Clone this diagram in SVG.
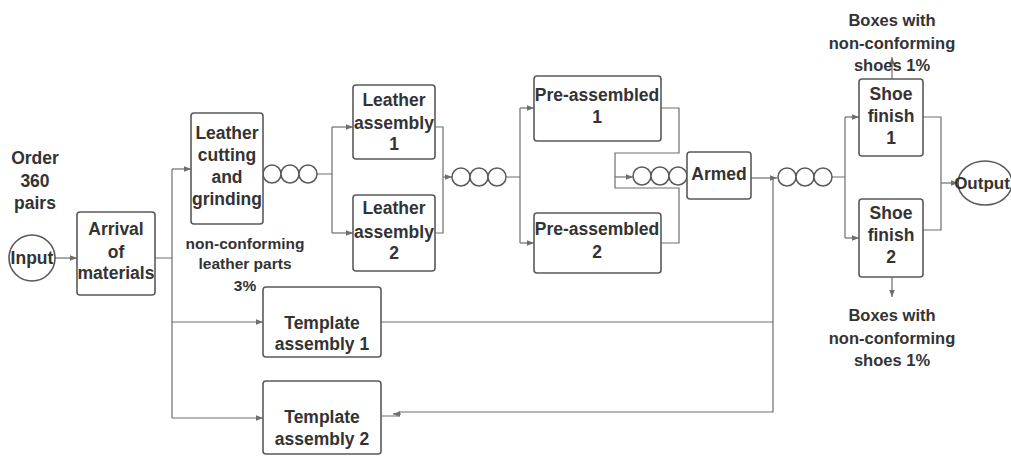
<svg xmlns="http://www.w3.org/2000/svg" width="1011" height="456" viewBox="0 0 1011 456">
<style>
.box{fill:#fff;stroke:#5a5a5a;stroke-width:1.6}
.q{fill:#fff;stroke:#5a5a5a;stroke-width:1.5}
.c{fill:none;stroke:#6e6e6e;stroke-width:1.2}
.t{font-family:"Liberation Sans",Arial,sans-serif;font-weight:bold;font-size:17.5px;fill:#333;text-anchor:middle}
.l{font-family:"Liberation Sans",Arial,sans-serif;font-weight:bold;font-size:16.5px;fill:#333;text-anchor:middle}
</style>
<defs>
<marker id="a" viewBox="0 0 8 8" refX="8" refY="4" markerWidth="7" markerHeight="7" markerUnits="userSpaceOnUse" orient="auto">
<path d="M0,0.8 L8,4 L0,7.2 Z" fill="#6e6e6e"/>
</marker>
</defs>
<rect width="1011" height="456" fill="#fff"/>
<g id="connectors">
<path class="c" d="M55,258 H77" marker-end="url(#a)"/>
<path class="c" d="M155,258 H172 M172,169 V418"/>
<path class="c" d="M172,169 H191" marker-end="url(#a)"/>
<path class="c" d="M172,322 H263" marker-end="url(#a)"/>
<path class="c" d="M172,418 H263" marker-end="url(#a)"/>
<path class="c" d="M317,174 H332 M332,127 V233"/>
<path class="c" d="M332,127 H353" marker-end="url(#a)"/>
<path class="c" d="M332,233 H353" marker-end="url(#a)"/>
<path class="c" d="M435,127 H443 V233 H435"/>
<path class="c" d="M443,177 H452" marker-end="url(#a)"/>
<path class="c" d="M506,177 H520 M520,108 V243"/>
<path class="c" d="M520,108 H534" marker-end="url(#a)"/>
<path class="c" d="M520,243 H534" marker-end="url(#a)"/>
<path class="c" d="M661,108 H679 V153 H615 V188 H679 V243 H661"/>
<path class="c" d="M615,177 H633" marker-end="url(#a)"/>
<path class="c" d="M751,178 H777" marker-end="url(#a)"/>
<path class="c" d="M773,178 V412 H399 V416 H381 M381,322 H773"/>
<path class="c" d="M401,414 H393" marker-end="url(#a)"/>
<path class="c" d="M832,177 H845 M845,117 V238"/>
<path class="c" d="M845,117 H859" marker-end="url(#a)"/>
<path class="c" d="M845,238 H859" marker-end="url(#a)"/>
<path class="c" d="M923,117 H941 V230 H923"/>
<path class="c" d="M941,183 H958" marker-end="url(#a)"/>
<path class="c" d="M892,79 V57" marker-end="url(#a)"/>
<path class="c" d="M892,277 V297" marker-end="url(#a)"/>
</g>
<g id="queue1"><circle class="q" cx="272" cy="174" r="9"/><circle class="q" cx="290" cy="174" r="9"/><circle class="q" cx="308" cy="174" r="9"/></g>
<g id="queue2"><circle class="q" cx="461" cy="177" r="9"/><circle class="q" cx="479" cy="177" r="9"/><circle class="q" cx="497" cy="177" r="9"/></g>
<g id="queue3"><circle class="q" cx="642" cy="176" r="9"/><circle class="q" cx="660" cy="176" r="9"/><circle class="q" cx="678" cy="176" r="9"/></g>
<g id="queue4"><circle class="q" cx="787" cy="177" r="9"/><circle class="q" cx="805" cy="177" r="9"/><circle class="q" cx="823" cy="177" r="9"/></g>
<g id="order"><text class="t" x="35" y="164">Order</text><text class="t" x="35" y="187">360</text><text class="t" x="35" y="209">pairs</text></g>
<g id="input"><circle class="box" cx="32" cy="258" r="23"/><text class="t" x="32" y="264">Input</text></g>
<g id="arrival"><rect class="box" x="77" y="212" width="78" height="83" rx="3"/><text class="t" x="116" y="235">Arrival</text><text class="t" x="116" y="258">of</text><text class="t" x="116" y="279">materials</text></g>
<g id="cutting"><rect class="box" x="191" y="113" width="72" height="111" rx="3"/><text class="t" x="227" y="139">Leather</text><text class="t" x="227" y="161">cutting</text><text class="t" x="227" y="183">and</text><text class="t" x="227" y="205">grinding</text></g>
<g id="la1"><rect class="box" x="353" y="85" width="82" height="74" rx="3"/><text class="t" x="394" y="106">Leather</text><text class="t" x="394" y="129">assembly</text><text class="t" x="394" y="150">1</text></g>
<g id="la2"><rect class="box" x="353" y="195" width="82" height="76" rx="3"/><text class="t" x="394" y="214">Leather</text><text class="t" x="394" y="238">assembly</text><text class="t" x="394" y="259">2</text></g>
<g id="pa1"><rect class="box" x="534" y="76" width="127" height="65" rx="3"/><text class="t" x="597" y="101">Pre-assembled</text><text class="t" x="597" y="123">1</text></g>
<g id="pa2"><rect class="box" x="534" y="213" width="127" height="60" rx="3"/><text class="t" x="597" y="235">Pre-assembled</text><text class="t" x="597" y="258">2</text></g>
<g id="armed"><rect class="box" x="687" y="152" width="64" height="47" rx="3"/><text class="t" x="719" y="180">Armed</text></g>
<g id="sf1"><rect class="box" x="859" y="79" width="64" height="77" rx="3"/><text class="t" x="891" y="100">Shoe</text><text class="t" x="891" y="122">finish</text><text class="t" x="891" y="144">1</text></g>
<g id="sf2"><rect class="box" x="859" y="199" width="64" height="78" rx="3"/><text class="t" x="891" y="219">Shoe</text><text class="t" x="891" y="241">finish</text><text class="t" x="891" y="263">2</text></g>
<g id="output"><ellipse class="box" cx="985" cy="183" rx="27" ry="22"/><text class="t" x="982" y="189" style="font-size:17px">Output</text></g>
<g id="ta1"><rect class="box" x="263" y="287" width="118" height="70" rx="3"/><text class="t" x="322" y="329">Template</text><text class="t" x="322" y="350">assembly 1</text></g>
<g id="ta2"><rect class="box" x="263" y="381" width="118" height="73" rx="3"/><text class="t" x="322" y="423">Template</text><text class="t" x="322" y="445">assembly 2</text></g>
<g id="label-top"><text class="l" x="892" y="26">Boxes with</text><text class="l" x="892" y="49">non-conforming</text><text class="l" x="892" y="71">shoes 1%</text></g>
<g id="label-bottom"><text class="l" x="892" y="321">Boxes with</text><text class="l" x="892" y="344">non-conforming</text><text class="l" x="892" y="366">shoes 1%</text></g>
<g id="label-leather"><text class="l" x="245" y="249" style="font-size:15.5px">non-conforming</text><text class="l" x="245" y="269" style="font-size:15.5px">leather parts</text><text class="l" x="245" y="291" style="font-size:15.5px">3%</text></g>
</svg>
